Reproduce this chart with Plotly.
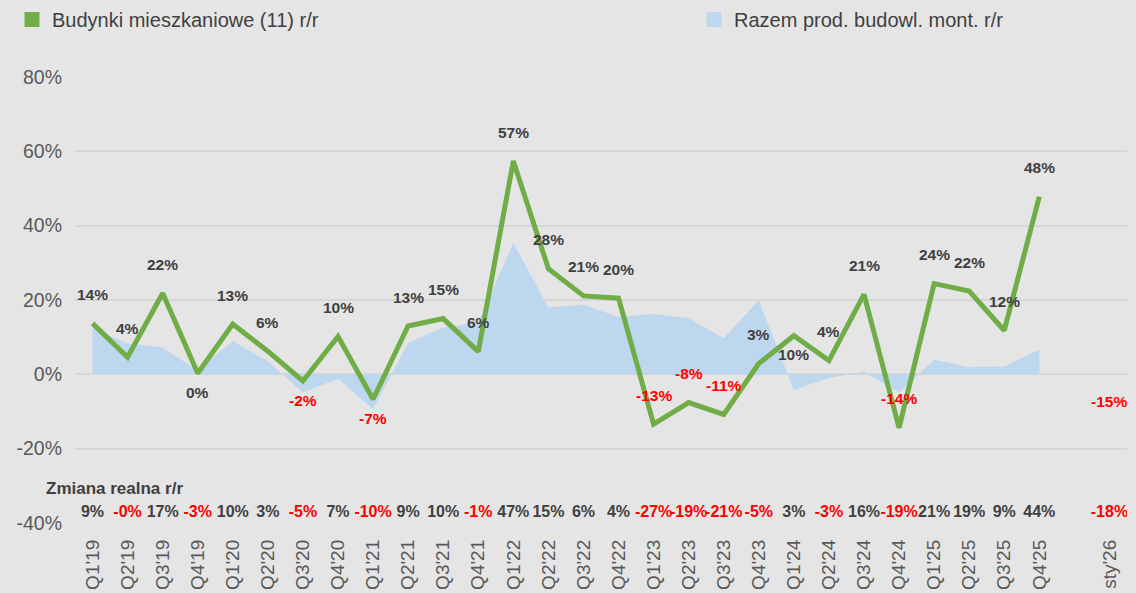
import plotly.graph_objects as go

# Kategorie osi X (pusta pozycja przed sty'26)
kategorie = ["Q1'19", "Q2'19", "Q3'19", "Q4'19", "Q1'20", "Q2'20", "Q3'20", "Q4'20",
             "Q1'21", "Q2'21", "Q3'21", "Q4'21", "Q1'22", "Q2'22", "Q3'22", "Q4'22",
             "Q1'23", "Q2'23", "Q3'23", "Q4'23", "Q1'24", "Q2'24", "Q3'24", "Q4'24",
             "Q1'25", "Q2'25", "Q3'25", "Q4'25", " ", "sty'26"]

# Budynki mieszkaniowe (11) r/r, %
budynki = [13.7, 4.6, 21.8, 0.3, 13.5, 6.2, -1.8, 10.2, -6.7, 13.0, 15.0, 6.1,
           57.4, 28.4, 21.1, 20.5, -13.4, -7.6, -10.8, 2.9, 10.4, 3.7, 21.5, -14.4,
           24.4, 22.4, 11.8, 47.8, None, -15.0]
etykiety_budynki = ["14%", "4%", "22%", "0%", "13%", "6%", "-2%", "10%", "-7%", "13%",
                    "15%", "6%", "57%", "28%", "21%", "20%", "-13%", "-8%", "-11%", "3%",
                    "10%", "4%", "21%", "-14%", "24%", "22%", "12%", "48%", "", "-15%"]
pod_punktem = ["Q4'19", "Q3'20", "Q1'21", "Q1'24"]

# Razem prod. budowl. mont. r/r, %
razem = [12.5, 8.3, 7.2, 1.0, 9.0, 3.5, -4.9, -1.2, -9.4, 8.5, 12.6, 13.9,
         35.3, 18.0, 18.8, 15.4, 16.2, 15.1, 9.7, 19.9, -4.2, -0.9, 0.6, -4.9,
         3.9, 2.0, 2.1, 6.7, None, None]

# Zmiana realna r/r (wiersz pod wykresem)
realna = ["9%", "-0%", "17%", "-3%", "10%", "3%", "-5%", "7%", "-10%", "9%", "10%", "-1%",
          "47%", "15%", "6%", "4%", "-27%", "-19%", "-21%", "-5%", "3%", "-3%", "16%", "-19%",
          "21%", "19%", "9%", "44%", "", "-18%"]

# Oś Y
y_ticki = [-40, -20, 0, 20, 40, 60, 80]
y_etykiety = ["-40%", "-20%", "0%", "20%", "40%", "60%", "80%"]

ZIELONY = "#70AD47"
NIEBIESKI = "#BDD7EE"
CZERWONY = "#FF0000"
CIEMNY = "#404040"
SIATKA = "#D6D6D6"
FONT = "Liberation Sans"

fig = go.Figure()

# Pole - produkcja budowlano-montażowa
fig.add_trace(go.Scatter(
    x=kategorie[:28], y=razem[:28],
    mode="lines", fill="tozeroy",
    line=dict(width=0, color=NIEBIESKI), fillcolor=NIEBIESKI,
    showlegend=False, hoverinfo="skip",
))

# Linia - budynki mieszkaniowe
fig.add_trace(go.Scatter(
    x=kategorie[:28], y=budynki[:28],
    mode="lines",
    line=dict(width=5, color=ZIELONY),
    showlegend=False,
))

# Wpisy legendy (kwadraty jak w Excelu), dwie osobne legendy
fig.add_trace(go.Scatter(x=[None], y=[None], mode="markers", name="Budynki mieszkaniowe (11) r/r",
                         marker=dict(symbol="square", size=15, color=ZIELONY), legend="legend"))
fig.add_trace(go.Scatter(x=[None], y=[None], mode="markers", name="Razem prod. budowl. mont. r/r",
                         marker=dict(symbol="square", size=15, color=NIEBIESKI), legend="legend2"))

# Etykiety danych nad / pod linią
for kat, wart, txt in zip(kategorie, budynki, etykiety_budynki):
    if wart is None or txt == "":
        continue
    pod = kat in pod_punktem
    fig.add_annotation(
        x=kat, y=wart, text=txt, showarrow=False,
        yshift=-19 if pod else 29,
        font=dict(family=FONT, size=15.5, color=CZERWONY if txt.startswith("-") else CIEMNY,
                  weight="bold"),
    )

# Wiersz "Zmiana realna r/r"
fig.add_trace(go.Scatter(
    x=kategorie, y=[-37.3] * len(kategorie),
    mode="text", text=realna, textposition="middle center",
    textfont=dict(family=FONT, size=16, weight="bold",
                  color=[CZERWONY if t.startswith("-") else CIEMNY for t in realna]),
    showlegend=False, hoverinfo="skip",
))
fig.add_annotation(
    text="Zmiana realna r/r", xref="paper", yref="paper", x=-0.0295, y=0.078,
    xanchor="left", yanchor="middle", showarrow=False,
    font=dict(family=FONT, size=17, color=CIEMNY, weight="bold"),
)

legenda = dict(
    orientation="h", xref="container", yref="container",
    y=1.0, xanchor="left", yanchor="top",
    font=dict(family=FONT, size=20, color=CIEMNY),
    bgcolor="rgba(0,0,0,0)", itemclick=False, itemdoubleclick=False,
)

fig.update_layout(
    width=1136, height=593,
    margin=dict(l=75, r=9, t=77, b=70, autoexpand=False),
    paper_bgcolor="#E5E5E5", plot_bgcolor="#E5E5E5",
    font=dict(family=FONT, color="#595959"),
    showlegend=True,
    legend=dict(legenda, x=12 / 1136),
    legend2=dict(legenda, x=694 / 1136),
    xaxis=dict(
        type="category", categoryorder="array", categoryarray=kategorie,
        range=[-0.5, len(kategorie) - 0.5],
        showgrid=False, zeroline=False, showline=False, ticks="",
        tickangle=-90, tickfont=dict(family=FONT, size=19, color="#595959"),
        ticklabelstandoff=12, fixedrange=True, automargin=False,
    ),
    yaxis=dict(
        range=[-40, 80], tickvals=y_ticki, ticktext=y_etykiety,
        showgrid=True, gridcolor=SIATKA, gridwidth=2,
        zeroline=False, showline=False, ticks="",
        tickfont=dict(family=FONT, size=19.5, color="#595959"),
        ticklabelstandoff=12, fixedrange=True, automargin=False,
    ),
)

fig.write_html("out.html", config={"displayModeBar": False},
               post_script="document.body.style.margin='0';document.body.style.overflow='hidden';")
